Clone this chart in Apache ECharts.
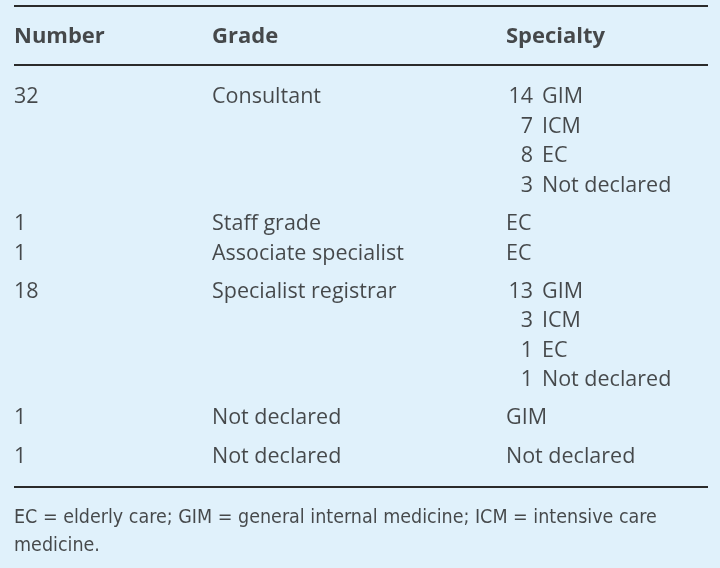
<!DOCTYPE html>
<html><head><meta charset="utf-8">
<script src="https://cdn.jsdelivr.net/npm/echarts@6/dist/echarts.min.js"></script>
<style>html,body{margin:0;padding:0;background:#e0f1fb;}#c{width:720px;height:568px;}</style>
</head><body><div id="c"></div>
<script>
const headers = ['Number', 'Grade', 'Specialty'];
const numbers = ['32', '1', '1', '18', '1', '1'];
const grades = ['Consultant', 'Staff grade', 'Associate specialist', 'Specialist registrar', 'Not declared', 'Not declared'];
const specialtyCounts = [['14', '7', '8', '3'], [''], [''], ['13', '3', '1', '1'], [''], ['']];
const specialtyNames = [['GIM', 'ICM', 'EC', 'Not declared'], ['EC'], ['EC'], ['GIM', 'ICM', 'EC', 'Not declared'], ['GIM'], ['Not declared']];
const footnoteLines = ['EC = elderly care; GIM = general internal medicine; ICM = intensive care', 'medicine.'];

// layout
const FONT = '"Open Sans", sans-serif';
const TXT = '#1e1e1e';
const colX = [14, 212, 506];
const countRight = 533, nameLeft = 542;
const lineH = 29.5;
const groupGap = [38, 30, 38, 38, 39];
const headerY = 37, firstRowY = 97;

const cells = [];
function addText(x, y, text, opts) {
  cells.push({ value: [x, y], label: Object.assign({ formatter: text }, opts || {}) });
}
headers.forEach((h, i) => addText(colX[i], headerY, h, { fontWeight: 'bold', fontSize: 22 }));
let y = firstRowY;
numbers.forEach((n, r) => {
  addText(colX[0], y, n);
  addText(colX[1], y, grades[r]);
  const names = specialtyNames[r];
  names.forEach((nm, k) => {
    const c = specialtyCounts[r][k];
    const yy = y + k * lineH;
    if (c) {
      addText(countRight, yy, c, { align: 'right' });
      addText(nameLeft, yy, nm);
    } else {
      addText(colX[2], yy, nm);
    }
  });
  if (r < groupGap.length) y += (names.length - 1) * lineH + groupGap[r];
});
footnoteLines.forEach((t, i) => addText(14, 518 + i * 28, t, { fontSize: 19.5, fontFamily: '"DejaVu Sans Condensed", "Liberation Sans Narrow", "Open Sans", sans-serif' }));

const rules = [
  { coords: [[14, 6], [708, 6]] },
  { coords: [[14, 65], [708, 65]] },
  { coords: [[14, 487], [708, 487]] }
];

const chart = echarts.init(document.getElementById('c'), null, { renderer: 'canvas' });
chart.setOption({
  backgroundColor: '#e0f1fb',
  animation: false,
  grid: { left: 0, right: 0, top: 0, bottom: 0 },
  xAxis: { type: 'value', min: 0, max: 720, show: false },
  yAxis: { type: 'value', min: 0, max: 568, inverse: true, show: false },
  series: [
    {
      type: 'lines', coordinateSystem: 'cartesian2d', silent: true,
      lineStyle: { color: '#2b2b2b', width: 2, opacity: 1 },
      data: rules
    },
    {
      type: 'scatter', symbolSize: 0, silent: true,
      label: {
        show: true, position: [0, 0], align: 'left', verticalAlign: 'middle',
        color: TXT, fontSize: 21.5, fontFamily: FONT
      },
      data: cells
    }
  ]
});
</script></body></html>
